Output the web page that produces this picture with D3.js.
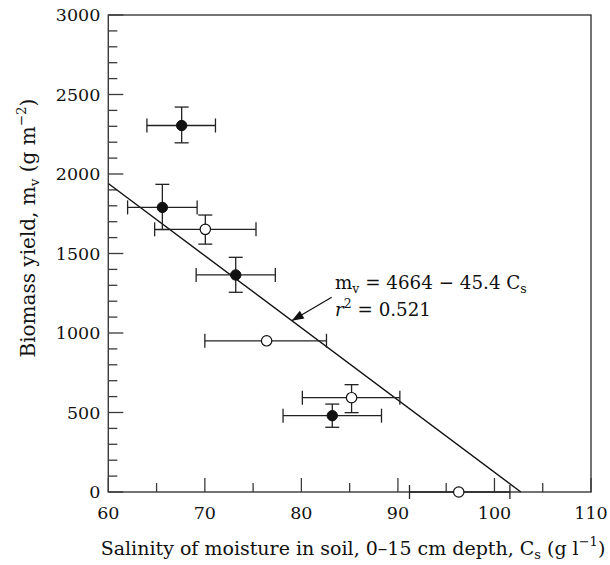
<!DOCTYPE html>
<html>
<head>
<meta charset="utf-8">
<script src="https://cdn.jsdelivr.net/npm/d3@7"></script>
<style>
  html, body { margin: 0; padding: 0; background: #fff; }
  svg { display: block; }
  text { font-family: "DejaVu Serif", "Liberation Serif", serif; fill: #111; }
</style>
</head>
<body>
<svg id="chart" width="610" height="565"></svg>
<script>
// ---- Data ----
const xTicksMajor = [60, 70, 80, 90, 100, 110];
const yTicksMajor = [0, 500, 1000, 1500, 2000, 2500, 3000];

// Filled circles
const filledX    = [67.6, 65.6, 73.2, 83.2];
const filledY    = [2305, 1790, 1365, 480];
const filledXLo  = [64.0, 62.0, 69.1, 78.1];
const filledXHi  = [71.1, 69.2, 77.3, 88.3];
const filledYLo  = [2196, 1650, 1256, 407];
const filledYHi  = [2421, 1935, 1476, 553];

// Open circles
const openX    = [70.05, 76.4, 85.2, 96.3];
const openY    = [1652, 951, 593, 0];
const openXLo  = [64.8, 70.0, 80.1, 91.2];
const openXHi  = [75.3, 82.6, 90.2, 101.6];
const openYLo  = [1559, null, 499, null];
const openYHi  = [1742, null, 675, null];

// Regression: m_v = 4664 - 45.4 C_s
const fitIntercept = 4664;
const fitSlope = -45.4;
const fitXStart = 60;
const annotationX = 79; // arrow tip lands on line here

// ---- Layout ----
const svg = d3.select("#chart");
const L = 108.3, R = 591, T = 15, B = 492;
const x = d3.scaleLinear().domain([60, 110]).range([L, R]);
const y = d3.scaleLinear().domain([0, 3000]).range([B, T]);

const axisColor = "#3a3a3a";
const g = svg.append("g");

// Frame
g.append("rect").attr("x", L).attr("y", T).attr("width", R - L).attr("height", B - T)
  .attr("fill", "none").attr("stroke", axisColor).attr("stroke-width", 1.4);

// X ticks (inward), minor every 5, major every 10
const xMinor = d3.range(60, 110.01, 5);
g.selectAll(".xt").data(xMinor).enter().append("line")
  .attr("x1", d => x(d)).attr("x2", d => x(d))
  .attr("y1", B).attr("y2", d => B - (d % 10 === 0 ? 14 : 9))
  .attr("stroke", axisColor).attr("stroke-width", 1.3);
// Y ticks (inward), minor every 100, major every 500
const yMinor = d3.range(0, 3000.01, 100);
g.selectAll(".yt").data(yMinor).enter().append("line")
  .attr("x1", L).attr("x2", d => L + (d % 500 === 0 ? 15 : 9))
  .attr("y1", d => y(d)).attr("y2", d => y(d))
  .attr("stroke", axisColor).attr("stroke-width", 1.3);

// Tick labels
g.selectAll(".xl").data(xTicksMajor).enter().append("text")
  .attr("x", d => x(d)).attr("y", B + 27)
  .attr("text-anchor", "middle").attr("font-size", 17.5).text(d => d);
g.selectAll(".yl").data(yTicksMajor).enter().append("text")
  .attr("x", L - 8).attr("y", d => y(d) + 6)
  .attr("text-anchor", "end").attr("font-size", 17.5).text(d => d);

// Axis titles
const xt = g.append("text").attr("x", 353).attr("y", B + 63)
  .attr("text-anchor", "middle").attr("font-size", 19);
xt.append("tspan").text("Salinity of moisture in soil, 0–15 cm depth, C");
xt.append("tspan").attr("font-size", 13).attr("dy", 4).text("s");
xt.append("tspan").attr("dy", -4).text(" (g l");
xt.append("tspan").attr("font-size", 13).attr("dy", -9).text("−1");
xt.append("tspan").attr("dy", 9).text(")");

const yt = g.append("text")
  .attr("transform", `translate(35,${y(1660)}) rotate(-90)`)
  .attr("text-anchor", "middle").attr("font-size", 20);
yt.append("tspan").text("Biomass yield, m");
yt.append("tspan").attr("font-size", 13.5).attr("dy", 4).text("v");
yt.append("tspan").attr("dy", -4).text(" (g m");
yt.append("tspan").attr("font-size", 13.5).attr("dy", -9).text("−2");
yt.append("tspan").attr("dy", 9).text(")");

// Regression line
const fitXEnd = -fitIntercept / fitSlope;
g.append("line")
  .attr("x1", x(fitXStart)).attr("y1", y(fitIntercept + fitSlope * fitXStart))
  .attr("x2", x(fitXEnd)).attr("y2", y(0))
  .attr("stroke", "#111").attr("stroke-width", 1.4);

// Error bars
const ebColor = "#222";
const capH = 7;
function drawErr(xs, ys, xlo, xhi, ylo, yhi) {
  xs.forEach((xv, i) => {
    const cx = x(xv), cy = y(ys[i]);
    g.append("line").attr("x1", x(xlo[i])).attr("x2", x(xhi[i]))
      .attr("y1", cy).attr("y2", cy).attr("stroke", ebColor).attr("stroke-width", 1.3);
    [xlo[i], xhi[i]].forEach(v => {
      g.append("line").attr("x1", x(v)).attr("x2", x(v))
        .attr("y1", cy - capH).attr("y2", cy + capH)
        .attr("stroke", ebColor).attr("stroke-width", 1.3);
    });
    if (ylo[i] != null) {
      g.append("line").attr("x1", cx).attr("x2", cx)
        .attr("y1", y(ylo[i])).attr("y2", y(yhi[i]))
        .attr("stroke", ebColor).attr("stroke-width", 1.3);
      [ylo[i], yhi[i]].forEach(v => {
        g.append("line").attr("x1", cx - capH).attr("x2", cx + capH)
          .attr("y1", y(v)).attr("y2", y(v))
          .attr("stroke", ebColor).attr("stroke-width", 1.3);
      });
    }
  });
}
drawErr(filledX, filledY, filledXLo, filledXHi, filledYLo, filledYHi);
drawErr(openX, openY, openXLo, openXHi, openYLo, openYHi);

// Markers
g.selectAll(".fm").data(filledX).enter().append("circle")
  .attr("cx", d => x(d)).attr("cy", (d, i) => y(filledY[i])).attr("r", 5.2)
  .attr("fill", "#111").attr("stroke", "#111");
g.selectAll(".om").data(openX).enter().append("circle")
  .attr("cx", d => x(d)).attr("cy", (d, i) => y(openY[i])).attr("r", 5.2)
  .attr("fill", "#fff").attr("stroke", "#111").attr("stroke-width", 1.2);

// Annotation
const tipX = x(annotationX), tipY = y(fitIntercept + fitSlope * annotationX);
const tailX = 331.7, tailY = 297.3;
g.append("line").attr("x1", tailX).attr("y1", tailY)
  .attr("x2", tipX).attr("y2", tipY).attr("stroke", "#111").attr("stroke-width", 1.2);
const ang = Math.atan2(tipY - tailY, tipX - tailX);
const aL = 12, aW = 4.5;
const bx = tipX - aL * Math.cos(ang), by = tipY - aL * Math.sin(ang);
g.append("path")
  .attr("d", `M${tipX},${tipY} L${bx + aW * Math.sin(ang)},${by - aW * Math.cos(ang)} L${bx - aW * Math.sin(ang)},${by + aW * Math.cos(ang)} Z`)
  .attr("fill", "#111");

const a1 = g.append("text").attr("x", 335).attr("y", 289).attr("font-size", 18.3);
a1.append("tspan").text("m");
a1.append("tspan").attr("font-size", 12.5).attr("dy", 4).text("v");
a1.append("tspan").attr("dy", -4).text(" = 4664 − 45.4 C");
a1.append("tspan").attr("font-size", 12.5).attr("dy", 4).text("s");

const a2 = g.append("text").attr("x", 335).attr("y", 316).attr("font-size", 18.3);
a2.append("tspan").attr("font-style", "italic").text("r");
a2.append("tspan").attr("font-size", 12.5).attr("dy", -8).text("2");
a2.append("tspan").attr("dy", 8).text(" = 0.521");
</script>
</body>
</html>
